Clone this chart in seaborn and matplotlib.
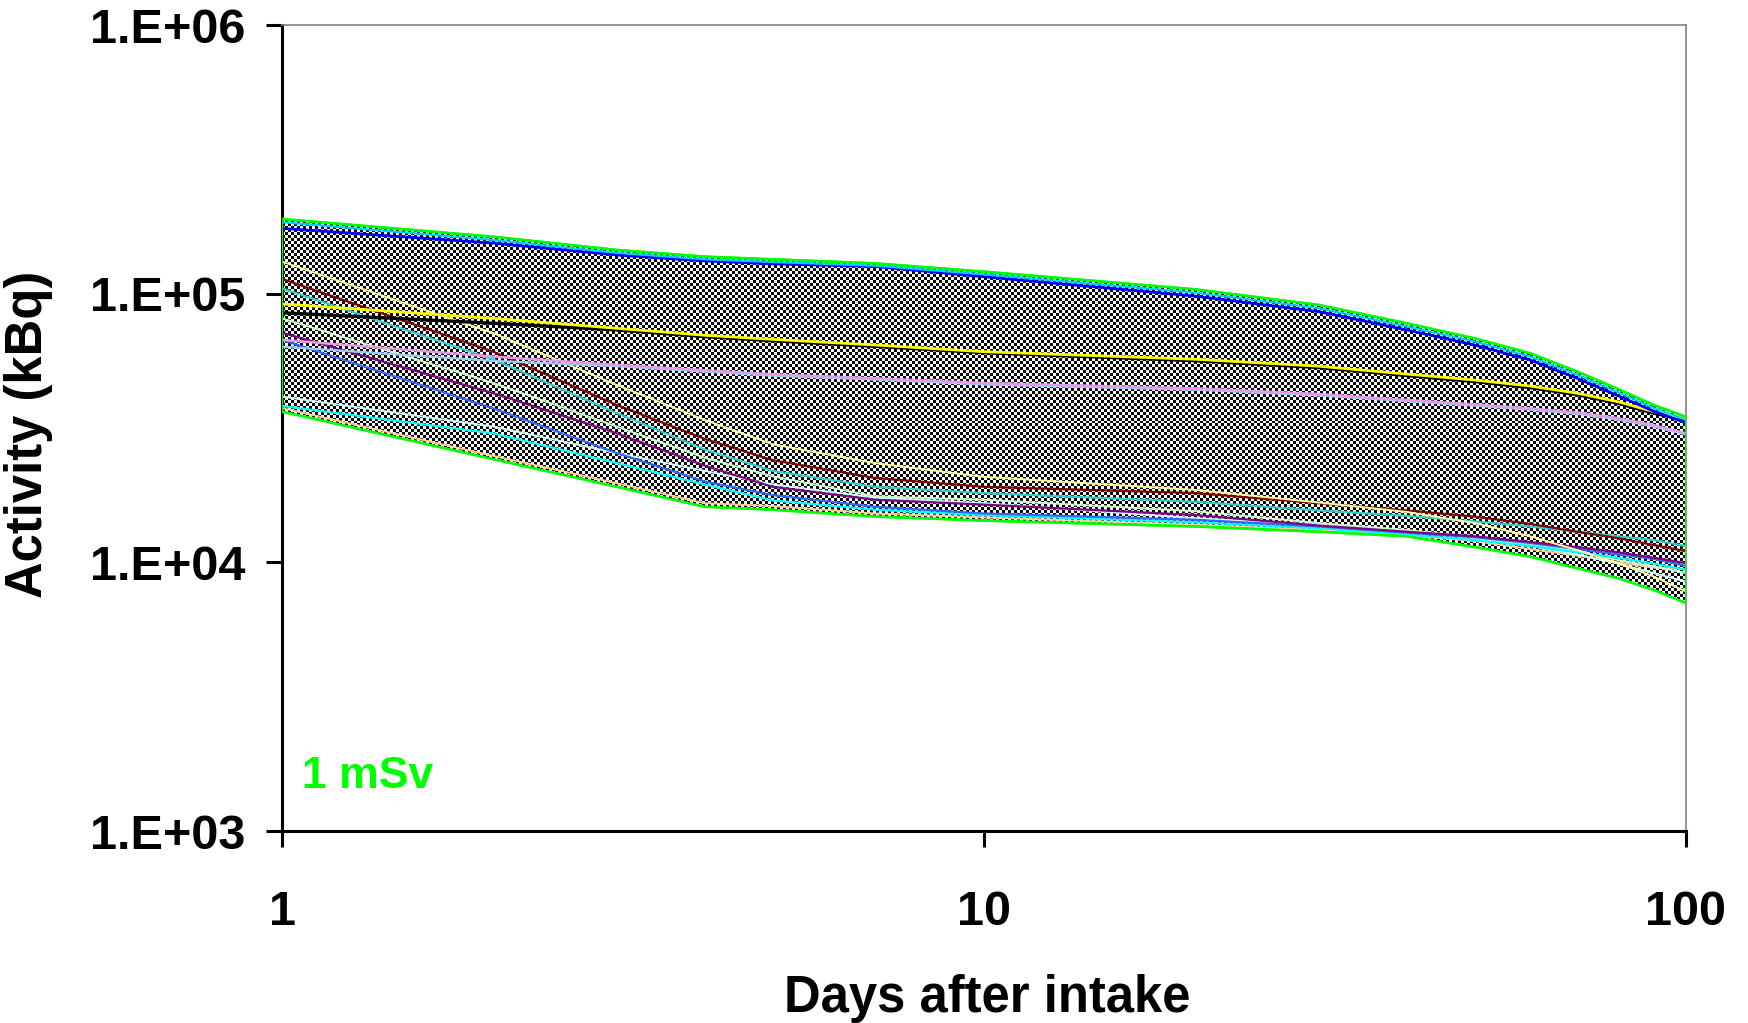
import numpy as np
import pandas as pd
import matplotlib
matplotlib.use("Agg")
import matplotlib.pyplot as plt
import seaborn as sns
from matplotlib.patches import Polygon
from matplotlib.ticker import FixedLocator, NullLocator, FixedFormatter

# ---------------- data (kBq) ----------------
days = [1, 2, 3, 4, 5, 7, 10, 20, 30, 40, 50, 60, 70, 80, 90, 100]

upper_1msv = [189700, 162900, 145500, 137400, 134300, 129700, 120800, 103800, 90800, 77600, 68200, 60000, 51300, 44200, 38500, 34800]
lower_1msv = [36400, 24200, 19100, 16100, 15700, 14800, 14300, 13600, 13000, 12500, 11400, 10500, 9500, 8730, 7890, 7050]

cyan_top = [184500, 158500, 141900, 134300, 131200, 127100, 118000, 100900, 88300, 75500, 66400, 58300, 49900, 43000, 37500, 33900]
blue_top = [175000, 154200, 139300, 132400, 129100, 126200, 115600, 97900, 85700, 73300, 64400, 56600, 48400, 41700, 36500, 33000]
yellow = [91600, 80900, 74300, 70000, 67600, 64400, 60800, 57000, 53700, 50200, 47700, 45300, 42600, 39600, 36400, 34300]
black = [84900, 77600, 73300, 69200, 66800, 63700, 60300, 56300, 53100, 49600, 47100, 44700, 42100, 39100, 35900, 33900]
pale_yellow = [131500, 71300, 45700, 33900, 27500, 23400, 20800, 18600, 16700, 15400, 14000, 12500, 11100, 9930, 8850, 7780]
dark_red = [113500, 60800, 38500, 28800, 24000, 20600, 19100, 18100, 16600, 15600, 14800, 13900, 13000, 12300, 11600, 11000]
teal = [104700, 56900, 35900, 26300, 21900, 19100, 18100, 16800, 15600, 14900, 14200, 13600, 13000, 12500, 12100, 11500]
pink = [67300, 58300, 54300, 51900, 50100, 48400, 46500, 44400, 42300, 40200, 38700, 37400, 36100, 34400, 32400, 30200]
lavender = [63500, 56200, 53700, 51300, 49500, 47900, 45900, 43900, 41800, 39800, 38300, 37000, 35700, 34000, 32000, 29900]
purple = [71600, 42600, 30200, 22900, 19100, 17100, 16400, 15000, 13700, 13000, 12500, 11900, 11400, 10900, 10400, 9930]
royal_blue = [67300, 37400, 25500, 20000, 17800, 16100, 15200, 14400, 13600, 12900, 12400, 11800, 11200, 10700, 10300, 9700]
pale_green = [80900, 46500, 32000, 24500, 20900, 17600, 17100, 15500, 14000, 13200, 12400, 11700, 11000, 10200, 9660, 9120]
light_cyan = [41400, 32000, 25500, 21900, 19500, 17400, 16600, 14600, 13800, 13000, 12300, 11500, 10700, 9890, 9120, 8470]
cyan = [38200, 30200, 23400, 19500, 17000, 15700, 15000, 14100, 13400, 12700, 12100, 11500, 10900, 10400, 9890, 9380]
peach = [37500, 24900, 19700, 16600, 16200, 15200, 14700, 13800, 13200, 12600, 12000, 11200, 10600, 10000, 9550, 9440]

x_ticks = [1, 10, 100]
x_tick_labels = ["1", "10", "100"]
y_ticks = [1e3, 1e4, 1e5, 1e6]
y_tick_labels = ["1.E+03", "1.E+04", "1.E+05", "1.E+06"]

series = [
    ("peach", peach, "#FFCC99", 1.4),
    ("light_cyan", light_cyan, "#CCFFFF", 1.4),
    ("pale_green", pale_green, "#CCFFCC", 1.4),
    ("cyan", cyan, "#00FFFF", 1.6),
    ("royal_blue", royal_blue, "#3366FF", 1.6),
    ("purple", purple, "#800080", 1.6),
    ("teal", teal, "#33CCCC", 1.6),
    ("dark_red", dark_red, "#800000", 1.6),
    ("pale_yellow", pale_yellow, "#FFFF99", 1.4),
    ("lavender", lavender, "#99CCFF", 1.6),
    ("pink", pink, "#E699E6", 1.8),
    ("black", black, "#000000", 2.4),
    ("yellow", yellow, "#FFFF00", 2.0),
    ("blue_top", blue_top, "#0000FF", 2.0),
    ("cyan_top", cyan_top, "#00CCFF", 1.6),
]

df = pd.concat(
    [pd.DataFrame({"day": days, "kBq": vals, "series": name}) for name, vals, _, _ in series],
    ignore_index=True,
)

# ---------------- style ----------------
sns.set_style("white")
plt.rcParams["font.family"] = ["Liberation Sans", "DejaVu Sans"]
plt.rcParams["font.weight"] = "bold"

W, H = 1748, 1023
fig = plt.figure(figsize=(W / 100, H / 100), dpi=100)
L, R, T, B = 282, 1686, 25, 831
ax = fig.add_axes([L / W, 1 - B / H, (R - L) / W, (B - T) / H])
ax.set_xscale("log")
ax.set_yscale("log")
ax.set_xlim(1, 100)
ax.set_ylim(1e3, 1e6)
ax.set_autoscale_on(False)

# checkerboard texture clipped to the 1 mSv band
ny, nx = round((B - T) / 3), round((R - L) / 3)
checker = (np.add.outer(np.arange(ny), np.arange(nx)) % 2).astype(float)
im = ax.imshow(checker, cmap="gray", vmin=0, vmax=1, interpolation="nearest",
               extent=(0, 1, 0, 1), transform=ax.transAxes, aspect="auto", zorder=1)
verts = list(zip(days, upper_1msv)) + list(zip(days[::-1], lower_1msv[::-1]))
band = Polygon(verts, closed=True, transform=ax.transData, facecolor="none",
               edgecolor="#00FF00", lw=1.6, zorder=4)
ax.add_patch(band)
im.set_clip_path(band)

for name, _, color, lw in series:
    sns.lineplot(data=df[df["series"] == name], x="day", y="kBq", color=color,
                 lw=lw, ax=ax, estimator=None, sort=False, zorder=3)

bounds = pd.DataFrame({"day": days * 2, "kBq": upper_1msv + lower_1msv,
                       "bound": ["upper"] * len(days) + ["lower"] * len(days)})
sns.lineplot(data=bounds, x="day", y="kBq", units="bound", estimator=None,
             color="#00FF00", lw=1.8, ax=ax, sort=False, zorder=5)

ax.set_xlim(1, 100)
ax.set_ylim(1e3, 1e6)

# ticks
ax.xaxis.set_major_locator(FixedLocator(x_ticks))
ax.xaxis.set_major_formatter(FixedFormatter(x_tick_labels))
ax.xaxis.set_minor_locator(NullLocator())
ax.yaxis.set_major_locator(FixedLocator(y_ticks))
ax.yaxis.set_major_formatter(FixedFormatter(y_tick_labels))
ax.yaxis.set_minor_locator(NullLocator())
ax.tick_params(axis="both", which="major", direction="out", length=11.5, width=2.2,
               color="black", labelsize=35, labelcolor="black", bottom=True, left=True)
ax.tick_params(axis="x", pad=31)
ax.tick_params(axis="y", pad=15)

for s in ("left", "bottom"):
    ax.spines[s].set_color("black")
    ax.spines[s].set_linewidth(2.2)
for s in ("top", "right"):
    ax.spines[s].set_color("#808080")
    ax.spines[s].set_linewidth(1.2)

ax.set_xlabel("Days after intake", fontsize=36.5, fontweight="bold", color="black")
ax.set_ylabel("Activity (kBq)", fontsize=36.5, fontweight="bold", color="black")
ax.xaxis.set_label_coords(0.5025, -0.178)
ax.yaxis.set_label_coords(-0.163, 0.4926)

ax.text(0.0143, 0.053, "1 mSv", transform=ax.transAxes, color="#00FF00",
        fontsize=32, fontweight="bold", va="baseline", ha="left")

fig.savefig("out.png", dpi=100)
